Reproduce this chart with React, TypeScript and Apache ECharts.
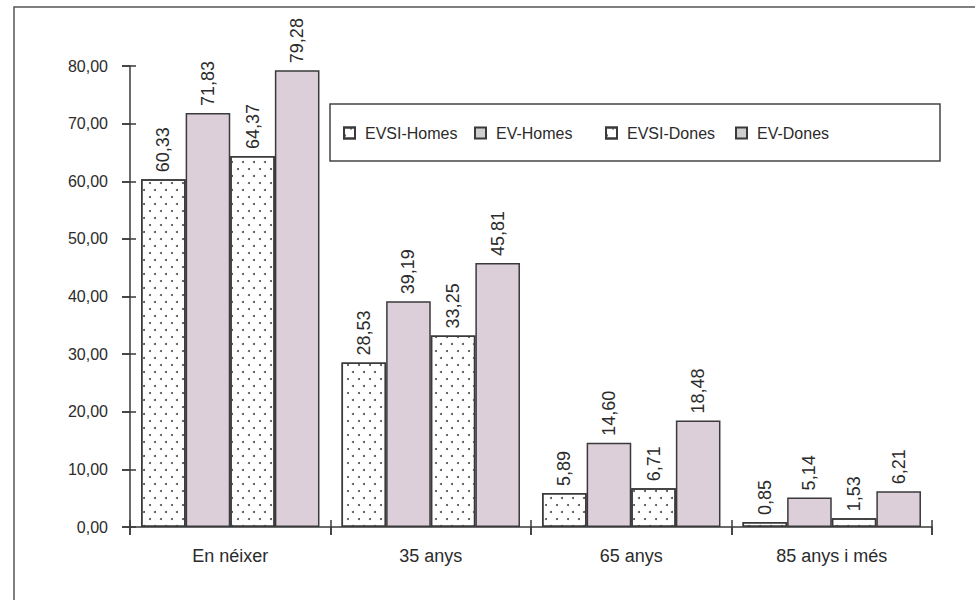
import React, { useEffect, useRef } from "react";
import * as echarts from "echarts";

const categories = ["En néixer", "35 anys", "65 anys", "85 anys i més"];
const evsiHomes = [60.33, 28.53, 5.89, 0.85];
const evHomes = [71.83, 39.19, 14.6, 5.14];
const evsiDones = [64.37, 33.25, 6.71, 1.53];
const evDones = [79.28, 45.81, 18.48, 6.21];
const seriesNames = ["EVSI-Homes", "EV-Homes", "EVSI-Dones", "EV-Dones"];
const yMin = 0;
const yMax = 80;
const yInterval = 10;

const FONT = "Liberation Sans, Arial, Helvetica, sans-serif";
const TEXT = "#2b2b2b";
const LINE = "#3a3a3a";
const MAUVE = "#dccfda";

const fmt = (v: number) => v.toFixed(2).replace(".", ",");

const dotDecal = {
  symbol: "circle",
  symbolSize: 1,
  color: "#4a4a4a",
  dashArrayX: [
    [2, 9],
    [0, 6, 2, 3],
  ],
  dashArrayY: [2, 5],
  rotation: 0,
};

export default function App() {
  const ref = useRef<HTMLDivElement>(null);
  useEffect(() => {
    if (!ref.current) return;
    const chart = echarts.init(ref.current, undefined, { renderer: "svg" });

    const mk = (name: string, data: number[], dotted: boolean) => ({
      name,
      type: "bar",
      data,
      xAxisIndex: 0,
      yAxisIndex: 0,
      barGap: "0%",
      barCategoryGap: "11%",
      itemStyle: {
        color: dotted ? "#ffffff" : MAUVE,
        borderColor: LINE,
        borderWidth: 1.5,
        decal: dotted ? dotDecal : "none",
      },
      label: {
        show: true,
        position: "top",
        rotate: 90,
        align: "left",
        verticalAlign: "middle",
        distance: 7,
        fontSize: 18,
        fontFamily: FONT,
        color: TEXT,
        formatter: (p: any) => fmt(p.value),
      },
    });

    const legendLefts = [343, 474, 605, 735];
    const legends = seriesNames.map((n, i) => ({
      show: true,
      left: legendLefts[i],
      top: 124,
      padding: 0,
      icon: "rect",
      itemWidth: 11,
      itemHeight: 11,
      selectedMode: false,
      data: [
        i % 2 === 1
          ? { name: n, itemStyle: { color: "#cfcfcf", borderColor: LINE, borderWidth: 2 } }
          : { name: n },
      ],
      textStyle: {
        fontSize: 16,
        fontFamily: FONT,
        color: TEXT,
        lineHeight: 18,
        padding: [0, 0, 0, 5],
      },
    }));

    const tickStyle = { color: LINE, width: 1.5 };
    const gridBox = { left: 130, right: 43, top: 66, bottom: 73 };

    chart.setOption({
      animation: false,
      backgroundColor: "#ffffff",
      textStyle: { fontFamily: FONT },
      grid: [gridBox, { ...gridBox }],
      legend: legends,
      xAxis: [
        {
          type: "category",
          gridIndex: 0,
          data: categories,
          axisLine: { show: true, lineStyle: tickStyle },
          axisTick: { show: true, length: 8, lineStyle: tickStyle },
          axisLabel: { fontSize: 18, fontFamily: FONT, color: TEXT, margin: 20 },
        },
        {
          type: "category",
          gridIndex: 1,
          show: true,
          data: categories,
          offset: -7,
          axisLine: { show: true, lineStyle: { color: "rgba(0,0,0,0)", width: 0 } },
          axisTick: { show: true, inside: false, length: 15, lineStyle: tickStyle },
          axisLabel: { show: false },
        },
      ],
      yAxis: [
        {
          type: "value",
          gridIndex: 0,
          min: yMin,
          max: yMax,
          interval: yInterval,
          axisLine: { show: true, lineStyle: tickStyle },
          axisTick: { show: true, length: 8, lineStyle: tickStyle },
          splitLine: { show: false },
          axisLabel: {
            fontSize: 16,
            fontFamily: FONT,
            color: TEXT,
            margin: 22,
            formatter: (v: number) => fmt(v),
          },
        },
        {
          type: "value",
          gridIndex: 1,
          show: true,
          min: yMin,
          max: yMax,
          interval: yInterval,
          offset: -6,
          axisLine: { show: true, lineStyle: { color: "rgba(0,0,0,0)", width: 0 } },
          axisTick: { show: true, inside: false, length: 14, lineStyle: tickStyle },
          splitLine: { show: false },
          axisLabel: { show: false },
        },
      ],
      series: [
        mk(seriesNames[0], evsiHomes, true),
        mk(seriesNames[1], evHomes, false),
        mk(seriesNames[2], evsiDones, true),
        mk(seriesNames[3], evDones, false),
        {
          name: "_ticks",
          type: "line",
          xAxisIndex: 1,
          yAxisIndex: 1,
          data: categories.map(() => 0),
          showSymbol: false,
          silent: true,
          lineStyle: { opacity: 0 },
        },
      ],
      graphic: [
        {
          type: "rect",
          z: -1,
          shape: { x: 14, y: 7, width: 1000, height: 700 },
          style: { fill: "none", stroke: "#555555", lineWidth: 1.5 },
        },
        {
          type: "rect",
          shape: { x: 330, y: 104, width: 610, height: 57 },
          style: { fill: "none", stroke: "#444444", lineWidth: 1.5 },
        },
      ],
    });
    return () => chart.dispose();
  }, []);

  return (
    <div
      ref={ref}
      style={{ position: "fixed", left: 0, top: 0, width: 975, height: 600 }}
    />
  );
}
